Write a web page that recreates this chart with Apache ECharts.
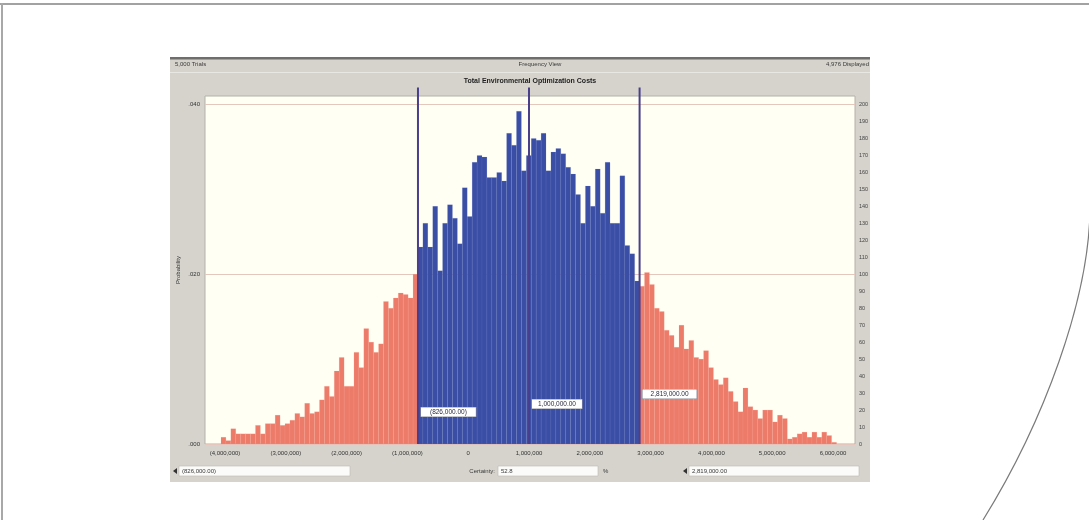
<!DOCTYPE html>
<html>
<head>
<meta charset="utf-8">
<title>Frequency View</title>
<script src="https://cdn.jsdelivr.net/npm/echarts@6/dist/echarts.min.js"></script>
<style>
  html, body { margin: 0; padding: 0; background: #ffffff; }
  #chart { width: 1089px; height: 520px; }
</style>
</head>
<body>
<div id="chart"></div>
<script>
// Simulation summary
const trials = 5000;
const displayed = 4976;
const chartTitle = 'Total Environmental Optimization Costs';

// Histogram bins: start of the first bin and common bin width
const binStart = -4066000;
const binWidth = 81000;

// Frequency of each bin, left to right (125 bins)
const frequencies = [
  4, 2, 9, 6, 6, 6, 6, 11, 6, 12,
  12, 17, 11, 12, 14, 18, 16, 24, 18, 19,
  26, 34, 28, 43, 51, 34, 34, 54, 45, 68,
  60, 54, 59, 84, 80, 86, 89, 88, 86, 100,
  116, 130, 116, 140, 102, 130, 141, 133, 118, 151,
  134, 166, 170, 169, 157, 157, 160, 155, 183, 176,
  196, 161, 170, 180, 179, 183, 161, 172, 174, 171,
  163, 159, 147, 130, 152, 140, 162, 136, 166, 130,
  130, 158, 117, 112, 96, 93, 101, 94, 80, 78,
  67, 64, 57, 70, 56, 61, 51, 50, 55, 45,
  38, 35, 39, 31, 25, 19, 33, 22, 20, 15,
  20, 20, 13, 17, 15, 3, 4, 6, 7, 4,
  7, 4, 7, 5, 1
];

// Certainty range and centre marker
const certaintyLow = -826000;
const certaintyHigh = 2819000;
const centreValue = 1000000;
const certaintyPct = 52.8;

// Axis ticks
const xTickValues = [-4000000, -3000000, -2000000, -1000000, 0, 1000000, 2000000, 3000000, 4000000, 5000000, 6000000];
const xTickLabels = ['(4,000,000)', '(3,000,000)', '(2,000,000)', '(1,000,000)', '0', '1,000,000', '2,000,000', '3,000,000', '4,000,000', '5,000,000', '6,000,000'];
const freqTicks = [0, 10, 20, 30, 40, 50, 60, 70, 80, 90, 100, 110, 120, 130, 140, 150, 160, 170, 180, 190, 200];
const probTicks = [0, 0.02, 0.04];

const FONT = 'Liberation Sans, Arial, sans-serif';
const RED = '#ed7b6a';
const BLUE = '#3b4ea6';
const MARK = '#4a3f8c';

const freqMax = 205;
const xMin = -4329000;
const xMax = 6362000;

function money(v) {
  const s = Math.abs(v).toLocaleString('en-US', { minimumFractionDigits: 2, maximumFractionDigits: 2 });
  return v < 0 ? '(' + s + ')' : s;
}

const bins = frequencies.map((f, i) => {
  const x0 = binStart + i * binWidth;
  const x1 = x0 + binWidth;
  const mid = (x0 + x1) / 2;
  const inside = mid > certaintyLow && mid < certaintyHigh ? 1 : 0;
  return [x0, x1, f, inside];
});

function markerSeries(value, dy, padX) {
  return {
    type: 'line',
    yAxisIndex: 1,
    data: [[value, 0], [value, 210]],
    symbol: 'none',
    clip: false,
    silent: true,
    z: 5,
    lineStyle: { color: MARK, width: 2 },
    markPoint: {
      symbol: 'rect',
      symbolSize: 0,
      silent: true,
      data: [{ coord: [value, 0] }],
      label: {
        show: true,
        position: 'right',
        distance: 3,
        offset: [0, dy],
        formatter: () => money(value),
        fontFamily: FONT,
        fontSize: 6.5,
        color: '#2a2a40',
        backgroundColor: '#ffffff',
        borderColor: '#8c8c9a',
        borderWidth: 0.6,
        padding: [1, padX]
      }
    }
  };
}

const chart = echarts.init(document.getElementById('chart'), null, { renderer: 'canvas' });

const smallText = (x, y, text, extra) => Object.assign({
  type: 'text', x: x, y: y, silent: true,
  style: Object.assign({ text: text, fontFamily: FONT, fontSize: 6, fill: '#3a3a3a', textVerticalAlign: 'middle' }, extra || {})
});

chart.setOption({
  animation: false,
  backgroundColor: '#ffffff',
  graphic: [
    // page frame
    { type: 'rect', z: -20, silent: true, shape: { x: 0, y: 3, width: 1089, height: 2 }, style: { fill: '#a2a2a2' } },
    { type: 'rect', z: -20, silent: true, shape: { x: 1, y: 3, width: 2, height: 517 }, style: { fill: '#a8a8a8' } },
    { type: 'bezierCurve', z: -20, silent: true,
      shape: { x1: 1090, y1: 212, cpx1: 1088, cpy1: 300, cpx2: 1045, cpy2: 420, x2: 983, y2: 520 },
      style: { stroke: '#7a7a7a', lineWidth: 1.2, fill: null } },
    // window panel
    { type: 'rect', z: -10, silent: true, shape: { x: 170, y: 57, width: 700, height: 425 }, style: { fill: '#d6d3cc' } },
    { type: 'rect', z: -9, silent: true, shape: { x: 170, y: 57, width: 700, height: 2.5 }, style: { fill: '#6f6e6a' } },
    { type: 'rect', z: -9, silent: true, shape: { x: 170, y: 72, width: 700, height: 1 }, style: { fill: '#e9e7e2' } },
    smallText(175, 64, trials.toLocaleString('en-US') + ' Trials'),
    smallText(540, 64, 'Frequency View', { textAlign: 'center' }),
    smallText(869, 64, displayed.toLocaleString('en-US') + ' Displayed', { textAlign: 'right' }),
    smallText(530, 81, chartTitle, { textAlign: 'center', fontWeight: 'bold', fontSize: 7, fill: '#1e1e1e' }),
    // certainty controls
    { type: 'polygon', z: -8, silent: true, shape: { points: [[173, 471], [177, 468], [177, 474]] }, style: { fill: '#333' } },
    { type: 'rect', z: -8, silent: true, shape: { x: 179, y: 466, width: 171, height: 10 }, style: { fill: '#fbfbfa', stroke: '#bdbab3', lineWidth: 0.6 } },
    smallText(182, 471, money(certaintyLow)),
    smallText(495, 471, 'Certainty:', { textAlign: 'right' }),
    { type: 'rect', z: -8, silent: true, shape: { x: 498, y: 466, width: 100, height: 10 }, style: { fill: '#fbfbfa', stroke: '#bdbab3', lineWidth: 0.6 } },
    smallText(501, 471, certaintyPct.toFixed(1)),
    smallText(603, 471, '%'),
    { type: 'polygon', z: -8, silent: true, shape: { points: [[683, 471], [687, 468], [687, 474]] }, style: { fill: '#333' } },
    { type: 'rect', z: -8, silent: true, shape: { x: 689, y: 466, width: 170, height: 10 }, style: { fill: '#fbfbfa', stroke: '#bdbab3', lineWidth: 0.6 } },
    smallText(692, 471, money(certaintyHigh))
  ],
  grid: {
    left: 205, right: 234, top: 96, bottom: 76,
    show: true,
    backgroundColor: '#fffff4',
    borderColor: '#b4b1aa',
    borderWidth: 1
  },
  xAxis: {
    type: 'value',
    min: xMin,
    max: xMax,
    axisLine: { show: false },
    axisTick: { show: false },
    splitLine: { show: false },
    axisLabel: {
      customValues: xTickValues,
      formatter: (v) => {
        const i = xTickValues.indexOf(v);
        return i >= 0 ? xTickLabels[i] : '';
      },
      fontFamily: FONT, fontSize: 6, color: '#333', margin: 6
    }
  },
  yAxis: [
    {
      type: 'value',
      position: 'left',
      min: 0,
      max: freqMax / trials,
      name: 'Probability',
      nameLocation: 'middle',
      nameGap: 24,
      nameMoveOverlap: false,
      nameTextStyle: { fontFamily: FONT, fontSize: 6, color: '#333' },
      axisLine: { show: false },
      axisTick: { show: false, customValues: probTicks },
      axisLabel: {
        customValues: probTicks,
        formatter: (v) => v.toFixed(3).replace(/^0/, ''),
        fontFamily: FONT, fontSize: 6, color: '#333', margin: 5
      },
      splitLine: { show: true, lineStyle: { color: '#e4c6bd', width: 1 } }
    },
    {
      type: 'value',
      position: 'right',
      min: 0,
      max: freqMax,
      axisLine: { show: false },
      axisTick: { show: false },
      splitLine: { show: false },
      axisLabel: {
        customValues: freqTicks,
        fontFamily: FONT, fontSize: 5.5, color: '#444', margin: 4
      }
    }
  ],
  series: [
    {
      type: 'custom',
      yAxisIndex: 1,
      data: bins,
      encode: { x: [0, 1], y: 2 },
      silent: true,
      renderItem: (params, api) => {
        const top = api.coord([api.value(0), api.value(2)]);
        const base = api.coord([api.value(1), 0]);
        const blue = api.value(3) === 1;
        return {
          type: 'rect',
          shape: { x: top[0], y: top[1], width: base[0] - top[0], height: base[1] - top[1] },
          style: {
            fill: blue ? BLUE : RED,
            stroke: blue ? 'rgba(120,140,210,0.25)' : 'rgba(255,170,155,0.25)',
            lineWidth: 0.5
          }
        };
      }
    },
    markerSeries(certaintyLow, -32, 9),
    markerSeries(centreValue, -40, 6),
    markerSeries(certaintyHigh, -50, 8)
  ]
});
</script>
</body>
</html>
